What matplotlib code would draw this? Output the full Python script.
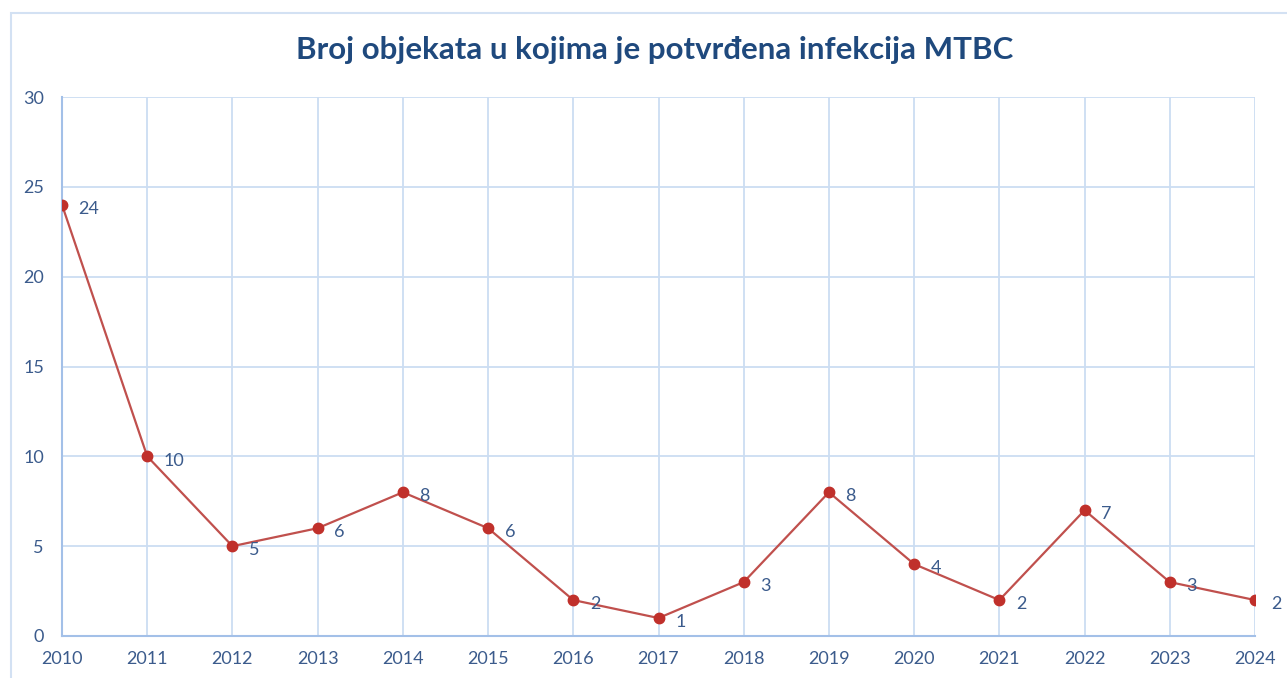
import matplotlib.pyplot as plt
from matplotlib.patches import Rectangle

# data
years = [2010, 2011, 2012, 2013, 2014, 2015, 2016, 2017,
         2018, 2019, 2020, 2021, 2022, 2023, 2024]
counts = [24, 10, 5, 6, 8, 6, 2, 1, 3, 8, 4, 2, 7, 3, 2]
y_ticks = [0, 5, 10, 15, 20, 25, 30]

TITLE = "Broj objekata u kojima je potvrđena infekcija MTBC"
TEXT_BLUE = "#3B5B8C"
TITLE_BLUE = "#1F497D"
GRID = "#CCDDF2"
SPINE = "#A3C0E8"
LINE = "#C0504D"
MARK = "#C0302B"

plt.rcParams['font.family'] = ['Lato', 'DejaVu Sans']

fig = plt.figure(figsize=(12.87, 6.78), dpi=100)
ax = fig.add_axes([62 / 1287, 1 - 636 / 678, (1255 - 62) / 1287, (636 - 97) / 678])

ax.plot(years, counts, color=LINE, linewidth=1.6, zorder=3)
ax.plot(years, counts, linestyle='none', marker='o', markersize=7.5,
        markerfacecolor=MARK, markeredgecolor=MARK, zorder=4)

for x, y in zip(years, counts):
    ax.annotate(str(y), (x, y), xytext=(12, -3), textcoords='offset points',
                ha='left', va='center', fontsize=13, color=TEXT_BLUE,
                annotation_clip=False, zorder=5)

ax.set_xlim(years[0], years[-1])
ax.set_ylim(0, 30)
ax.set_xticks(years)
ax.set_yticks(y_ticks)
ax.tick_params(axis='both', length=0, labelsize=13, labelcolor=TEXT_BLUE)
ax.tick_params(axis='x', pad=11)
ax.tick_params(axis='y', pad=13)

ax.grid(True, color=GRID, linewidth=1.3)
ax.set_axisbelow(True)
for side in ['top', 'right']:
    ax.spines[side].set_visible(False)
for side in ['left', 'bottom']:
    ax.spines[side].set_color(SPINE)
    ax.spines[side].set_linewidth(1.5)

fig.text(655 / 1287, 1 - 50 / 678, TITLE, ha='center', va='center',
         fontsize=22.5, fontweight='bold', color=TITLE_BLUE)

# chart area border
fig.patches.append(Rectangle((11 / 1287, -0.05), 1.1, 1 - 13 / 678 + 0.05,
                             transform=fig.transFigure, fill=False,
                             edgecolor="#D3E1F3", linewidth=1.5, zorder=0))

fig.savefig("out.png", dpi=100, facecolor="white")
